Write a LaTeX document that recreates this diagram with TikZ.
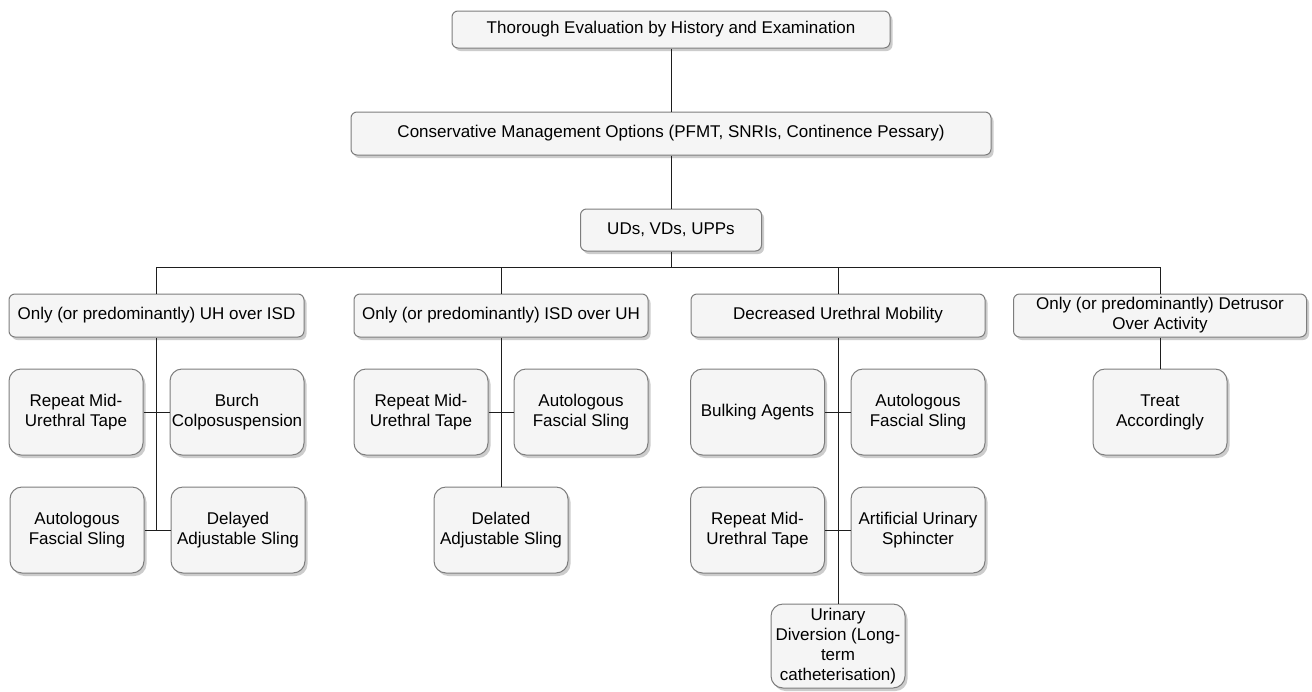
\documentclass[tikz,border=0pt]{standalone}
\usepackage{fontspec}
\setmainfont{Liberation Sans}
\usetikzlibrary{shadows}
\definecolor{boxfill}{RGB}{245,245,245}
\definecolor{boxline}{RGB}{125,125,125}
\definecolor{conn}{RGB}{30,30,30}
\begin{document}
\begin{tikzpicture}[x=1pt,y=-1pt,
  basebox/.style={draw=boxline, fill=boxfill, line width=1pt, inner sep=0pt,
    align=center, font=\fontsize{17}{20}\selectfont,
    drop shadow={shadow xshift=2.5pt, shadow yshift=-3pt, fill=black!25, opacity=0.8}},
  widebox/.style={basebox, rounded corners=6pt},
  smallbox/.style={basebox, rounded corners=12pt, minimum width=134pt, minimum height=86pt},
  link/.style={draw=conn, line width=1pt}]
\useasboundingbox (0,0) rectangle (1312,691);

% top levels
\node[widebox, minimum width=438pt, minimum height=37pt] (top) at (671,29.5) {Thorough Evaluation by History and Examination};
\node[widebox, minimum width=640pt, minimum height=43pt] (cons) at (671,133.5) {Conservative Management Options (PFMT, SNRIs, Continence Pessary)};
\node[widebox, minimum width=181pt, minimum height=42pt] (uds) at (671,230) {UDs, VDs, UPPs};
\coordinate (bus) at (671,267);

% second level
\node[widebox, minimum width=295pt, minimum height=43pt] (A) at (156.5,315.5) {Only (or predominantly) UH over ISD};
\node[widebox, minimum width=294pt, minimum height=43pt] (B) at (501,315.5) {Only (or predominantly) ISD over UH};
\node[widebox, minimum width=294pt, minimum height=43pt] (C) at (838,315.5) {Decreased Urethral Mobility};
\node[widebox, minimum width=293pt, minimum height=43pt] (D) at (1160,315.5) {Only (or predominantly) Detrusor\\Over Activity};

% third level A
\node[smallbox] (a1) at (76,412) {Repeat Mid-\\Urethral Tape};
\node[smallbox] (a2) at (237,412) {Burch\\Colposuspension};
\node[smallbox] (a3) at (77,530) {Autologous\\Fascial Sling};
\node[smallbox] (a4) at (238,530) {Delayed\\Adjustable Sling};
\coordinate (aend) at (156.5,530);

% third level B
\node[smallbox] (b1) at (421,412) {Repeat Mid-\\Urethral Tape};
\node[smallbox] (b2) at (581,412) {Autologous\\Fascial Sling};
\node[smallbox] (b3) at (501,530) {Delated\\Adjustable Sling};

% third level C
\node[smallbox] (c1) at (757.5,412) {Bulking Agents};
\node[smallbox] (c2) at (918,412) {Autologous\\Fascial Sling};
\node[smallbox] (c3) at (757.5,530) {Repeat Mid-\\Urethral Tape};
\node[smallbox] (c4) at (918,530) {Artificial Urinary\\Sphincter};
\node[smallbox, minimum height=84pt] (c5) at (838,646) {Urinary\\Diversion (Long-\\term\\catheterisation)};

% third level D
\node[smallbox] (d1) at (1160,412) {Treat\\Accordingly};

% connectors
\draw[link] (top.south) -- (cons.north);
\draw[link] (cons.south) -- (uds.north);
\draw[link] (uds.south) -- (bus);
\draw[link] (A.north) |- (bus);
\draw[link] (B.north) |- (bus);
\draw[link] (C.north) |- (bus);
\draw[link] (D.north) |- (bus);

\draw[link] (A.south) -- (aend);
\draw[link] (a1.east) -- (a2.west);
\draw[link] (a3.east) -- (a4.west);

\draw[link] (B.south) -- (b3.north);
\draw[link] (b1.east) -- (b2.west);

\draw[link] (C.south) -- (c5.north);
\draw[link] (c1.east) -- (c2.west);
\draw[link] (c3.east) -- (c4.west);

\draw[link] (D.south) -- (d1.north);
\end{tikzpicture}
\end{document}
